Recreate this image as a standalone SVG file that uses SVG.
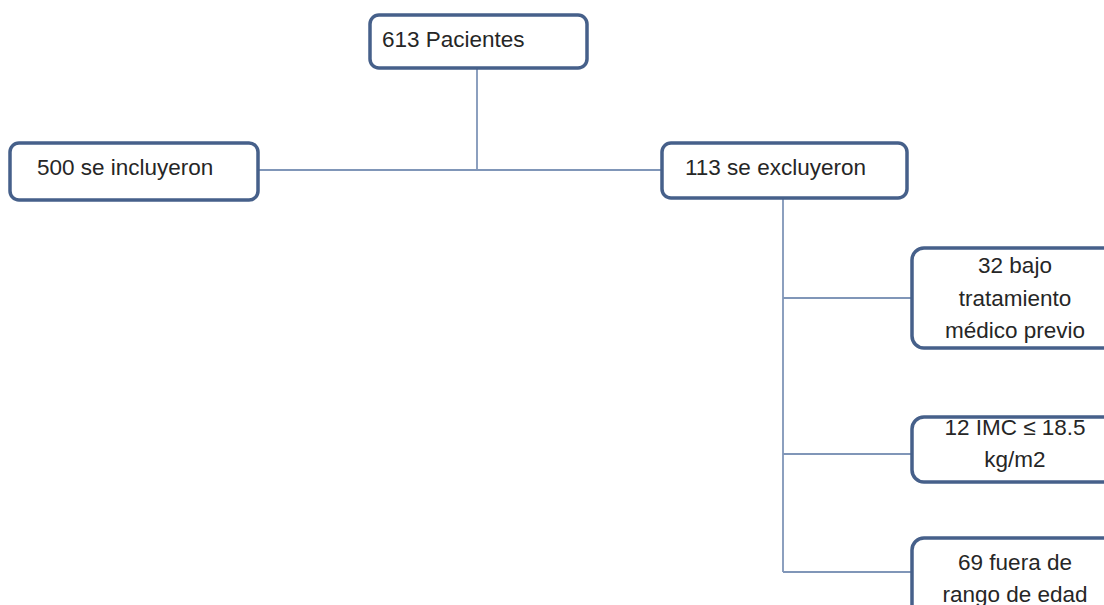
<svg xmlns="http://www.w3.org/2000/svg" width="1104" height="605" viewBox="0 0 1104 605">
<style>
.box{fill:#ffffff;stroke:#46608a;stroke-width:3.5}
.ln{fill:none;stroke:#8096b8;stroke-width:1.8}
text{font-family:"Liberation Sans",Arial,sans-serif;font-size:22.5px;fill:#262626}
.c{text-anchor:middle}
</style>
<rect width="1104" height="605" fill="#ffffff"/>
<g id="connectors">
<path class="ln" d="M477 68 V170 M258 170 H662"/>
<path class="ln" d="M783 198 V572 M783 298 H912 M783 454 H912 M783 572 H912"/>
</g>
<g id="n613">
<rect class="box" x="370" y="15" width="217" height="53" rx="9"/>
<text x="382" y="47">613 Pacientes</text>
</g>
<g id="n500">
<rect class="box" x="10" y="143" width="248" height="57" rx="9"/>
<text x="37" y="175">500 se incluyeron</text>
</g>
<g id="n113">
<rect class="box" x="662" y="143" width="245" height="55" rx="9"/>
<text x="685" y="175">113 se excluyeron</text>
</g>
<g id="n32">
<rect class="box" x="912" y="248" width="206" height="100" rx="12"/>
<text class="c" x="1015" y="273">32 bajo</text>
<text class="c" x="1015" y="306">tratamiento</text>
<text class="c" x="1015" y="338">médico previo</text>
</g>
<g id="n12">
<rect class="box" x="912" y="417" width="206" height="65" rx="12"/>
<text class="c" x="1015" y="435">12 IMC ≤ 18.5</text>
<text class="c" x="1015" y="467">kg/m2</text>
</g>
<g id="n69">
<rect class="box" x="912" y="538" width="206" height="90" rx="12"/>
<text class="c" x="1015" y="570">69 fuera de</text>
<text class="c" x="1015" y="602">rango de edad</text>
</g>
</svg>
